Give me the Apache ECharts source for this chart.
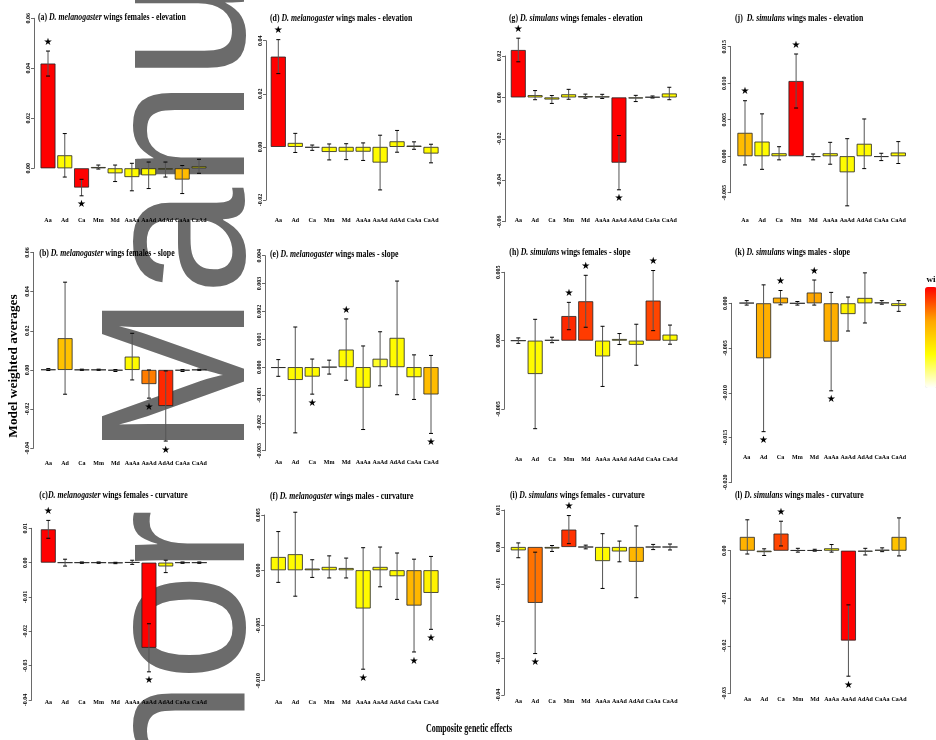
<!DOCTYPE html>
<html>
<head>
<meta charset="utf-8">
<script src="https://cdn.jsdelivr.net/npm/echarts@6/dist/echarts.min.js"></script>
<style>
html, body { margin: 0; padding: 0; background: #fff; }
#chart { width: 936px; height: 740px; }
</style>
</head>
<body>
<div id="chart"></div>
<script>
// composite genetic effects (x categories)
var cats = ['Aa', 'Ad', 'Ca', 'Mm', 'Md', 'AaAa', 'AaAd', 'AdAd', 'CaAa', 'CaAd'];

// model weighted averages, +/- error, model weight (colour) and significance star
var aVal = [0.0419, 0.0052, -0.0077, 0.0005, -0.0020, -0.0035, -0.0028, -0.0005, -0.0045, 0.0008];
var aErr = [0.0050, 0.0087, 0.0033, 0.0008, 0.0033, 0.0055, 0.0053, 0.0030, 0.0056, 0.0028];
var aW   = [1.00, 0.35, 1.00, 0.35, 0.35, 0.35, 0.35, 0.35, 0.58, 0.35];
var aSig = [1, 0, 1, 0, 0, 0, 0, 0, 0, 0];

var dVal = [0.0340, 0.0015, -0.0003, -0.0019, -0.0018, -0.0018, -0.0059, 0.0021, 0.0005, -0.0025];
var dErr = [0.0064, 0.0036, 0.0010, 0.0030, 0.0030, 0.0033, 0.0103, 0.0041, 0.0014, 0.0035];
var dW   = [1.00, 0.35, 0.35, 0.35, 0.35, 0.35, 0.35, 0.35, 0.35, 0.35];
var dSig = [1, 0, 0, 0, 0, 0, 0, 0, 0, 0];

var gVal = [0.0229, 0.0011, -0.0010, 0.0015, 0.0006, 0.0005, -0.0315, -0.0005, 0.0002, 0.0019];
var gErr = [0.0057, 0.0022, 0.0019, 0.0024, 0.0010, 0.0010, 0.0131, 0.0015, 0.0005, 0.0030];
var gW   = [1.00, 0.35, 0.35, 0.35, 0.35, 0.35, 1.00, 0.35, 0.35, 0.35];
var gSig = [1, 0, 0, 0, 0, 0, 1, 0, 0, 0];

var jVal = [0.0032, 0.0020, 0.0004, 0.0103, -0.0001, 0.0004, -0.0022, 0.0017, -0.0001, 0.0005];
var jErr = [0.0044, 0.0038, 0.0009, 0.0037, 0.0004, 0.0015, 0.0046, 0.0034, 0.0005, 0.0015];
var jW   = [0.58, 0.35, 0.35, 1.00, 0.35, 0.35, 0.35, 0.35, 0.35, 0.35];
var jSig = [1, 0, 0, 1, 0, 0, 0, 0, 0, 0];

var bVal = [0.0002, 0.0162, 0.0001, 0.0001, -0.0003, 0.0068, -0.0072, -0.0184, -0.0003, 0.0001];
var bErr = [0.0005, 0.0286, 0.0003, 0.0003, 0.0005, 0.0119, 0.0072, 0.0179, 0.0005, 0.0003];
var bW   = [0.35, 0.56, 0.35, 0.35, 0.35, 0.35, 0.75, 0.92, 0.35, 0.35];
var bSig = [0, 0, 0, 0, 0, 0, 1, 1, 0, 0];

var eVal = [-0.00003, -0.00046, -0.00034, 0.0, 0.00063, -0.00074, 0.0003, 0.00105, -0.00036, -0.00098];
var eErr = [0.0003, 0.0019, 0.00063, 0.00025, 0.0011, 0.0015, 0.00097, 0.00204, 0.0008, 0.0014];
var eW   = [0.35, 0.35, 0.35, 0.35, 0.35, 0.35, 0.28, 0.35, 0.35, 0.58];
var eSig = [0, 0, 1, 0, 1, 0, 0, 0, 0, 1];

var hVal = [0.0, -0.00244, 0.00005, 0.0018, 0.00288, -0.00115, 0.00012, -0.0003, 0.00293, 0.00044];
var hErr = [0.0002, 0.0040, 0.0002, 0.0010, 0.0019, 0.0022, 0.0004, 0.0015, 0.0022, 0.0007];
var hW   = [0.35, 0.35, 0.35, 0.92, 0.88, 0.35, 0.35, 0.35, 0.86, 0.35];
var hSig = [0, 0, 0, 1, 1, 0, 0, 0, 1, 0];

var kVal = [0.00005, -0.00614, 0.00063, 0.0, 0.0012, -0.00428, -0.0012, 0.0006, 0.0001, -0.0003];
var kErr = [0.00025, 0.0082, 0.0008, 0.0002, 0.0014, 0.0055, 0.0019, 0.0028, 0.0002, 0.0006];
var kW   = [0.35, 0.63, 0.63, 0.35, 0.66, 0.63, 0.38, 0.38, 0.35, 0.35];
var kSig = [0, 1, 1, 0, 1, 1, 0, 0, 0, 0];

var cVal = [0.0097, 0.0, 0.0, 0.0, -0.0001, 0.0001, -0.0248, -0.0011, 0.0, 0.0];
var cErr = [0.0026, 0.0010, 0.0002, 0.0002, 0.0002, 0.0006, 0.0070, 0.0018, 0.0002, 0.0002];
var cW   = [1.00, 0.35, 0.35, 0.35, 0.35, 0.35, 1.00, 0.35, 0.35, 0.35];
var cSig = [1, 0, 0, 0, 0, 0, 1, 0, 0, 0];

var fVal = [0.0012, 0.00145, 0.00015, 0.0003, 0.0002, -0.00346, 0.0003, -0.00054, -0.0032, -0.00205];
var fErr = [0.0023, 0.0038, 0.0008, 0.0010, 0.0009, 0.0055, 0.0018, 0.0021, 0.0042, 0.0033];
var fW   = [0.35, 0.35, 0.35, 0.35, 0.35, 0.35, 0.35, 0.35, 0.60, 0.38];
var fSig = [0, 0, 0, 0, 0, 1, 0, 0, 1, 1];

var iVal = [-0.0009, -0.0151, -0.0004, 0.0047, 0.0, -0.0038, -0.0012, -0.0040, 0.0, 0.0];
var iErr = [0.0020, 0.0137, 0.0008, 0.0038, 0.0005, 0.0074, 0.0028, 0.0097, 0.0007, 0.0008];
var iW   = [0.35, 0.77, 0.35, 0.90, 0.35, 0.35, 0.35, 0.60, 0.35, 0.35];
var iSig = [0, 1, 0, 1, 0, 0, 0, 0, 0, 0];

var lVal = [0.0029, -0.0003, 0.0036, 0.0001, 0.0001, 0.0005, -0.0189, -0.0002, 0.0002, 0.0029];
var lErr = [0.0036, 0.0007, 0.0026, 0.0004, 0.0002, 0.0008, 0.0075, 0.0007, 0.0004, 0.0040];
var lW   = [0.62, 0.35, 0.86, 0.35, 0.35, 0.35, 1.00, 0.35, 0.35, 0.56];
var lSig = [0, 0, 1, 0, 0, 0, 1, 0, 0, 0];

// panel layout: y axis line x, first/last bar centre, y of top/bottom tick
var panels = [
    {v: aVal, e: aErr, w: aW, s: aSig, tag: '(a) ', sp: 'D. melanogaster', rest: ' wings females - elevation',
     axisX: 34, c0: 48, c9: 199, topY: 18.3, botY: 168.3, min: 0, max: 0.06, step: 0.02, dec: 2, labelY: 220, tx: 38, ty: 17},
    {v: dVal, e: dErr, w: dW, s: dSig, tag: '(d) ', sp: 'D. melanogaster', rest: ' wings males - elevation',
     axisX: 266, c0: 278.3, c9: 431, topY: 40.7, botY: 200, min: -0.02, max: 0.04, step: 0.02, dec: 2, labelY: 220, tx: 270, ty: 18},
    {v: gVal, e: gErr, w: gW, s: gSig, tag: '(g) ', sp: 'D. simulans', rest: ' wings females - elevation',
     axisX: 505, c0: 518.3, c9: 669.3, topY: 56, botY: 221.7, min: -0.06, max: 0.02, step: 0.02, dec: 2, labelY: 220, tx: 509, ty: 18},
    {v: jVal, e: jErr, w: jW, s: jSig, tag: '(j)  ', sp: 'D. simulans', rest: ' wings males - elevation',
     axisX: 730.7, c0: 745, c9: 898.3, topY: 46.7, botY: 192.7, min: -0.005, max: 0.015, step: 0.005, dec: 3, labelY: 220, tx: 735, ty: 18},
    {v: bVal, e: bErr, w: bW, s: bSig, tag: '(b) ', sp: 'D. melanogaster', rest: ' wings females - slope',
     axisX: 33.3, c0: 48.3, c9: 199.3, topY: 252.4, botY: 448.3, min: -0.04, max: 0.06, step: 0.02, dec: 2, labelY: 463.3, tx: 39.3, ty: 253.3},
    {v: eVal, e: eErr, w: eW, s: eSig, tag: '(e) ', sp: 'D. melanogaster', rest: ' wings males - slope',
     axisX: 265, c0: 278.3, c9: 431, topY: 255.7, botY: 450.7, min: -0.003, max: 0.004, step: 0.001, dec: 3, labelY: 462.7, tx: 270, ty: 254.3},
    {v: hVal, e: hErr, w: hW, s: hSig, tag: '(h) ', sp: 'D. simulans', rest: ' wings females - slope',
     axisX: 504.3, c0: 518.3, c9: 670, topY: 272.3, botY: 409, min: -0.005, max: 0.005, step: 0.005, dec: 3, labelY: 459, tx: 509.3, ty: 252.3},
    {v: kVal, e: kErr, w: kW, s: kSig, tag: '(k) ', sp: 'D. simulans', rest: ' wings males - slope',
     axisX: 731.7, c0: 746.7, c9: 898.7, topY: 303.3, botY: 482.3, min: -0.02, max: 0, step: 0.005, dec: 3, labelY: 457.7, tx: 735, ty: 252.3},
    {v: cVal, e: cErr, w: cW, s: cSig, tag: '(c)', sp: 'D. melanogaster', rest: ' wings females - curvature',
     axisX: 31.7, c0: 48.3, c9: 199.3, topY: 528.3, botY: 700, min: -0.04, max: 0.01, step: 0.01, dec: 2, labelY: 702.7, tx: 39.3, ty: 495},
    {v: fVal, e: fErr, w: fW, s: fSig, tag: '(f) ', sp: 'D. melanogaster', rest: ' wings males - curvature',
     axisX: 264.3, c0: 278.3, c9: 431, topY: 515, botY: 680.7, min: -0.01, max: 0.005, step: 0.005, dec: 3, labelY: 702.7, tx: 270, ty: 496.7},
    {v: iVal, e: iErr, w: iW, s: iSig, tag: '(i) ', sp: 'D. simulans', rest: ' wings females - curvature',
     axisX: 504.3, c0: 518.3, c9: 670, topY: 510, botY: 695, min: -0.04, max: 0.01, step: 0.01, dec: 2, labelY: 701, tx: 510, ty: 495.7},
    {v: lVal, e: lErr, w: lW, s: lSig, tag: '(l) ', sp: 'D. simulans', rest: ' wings males - curvature',
     axisX: 730.7, c0: 747.3, c9: 899, topY: 550.7, botY: 693.3, min: -0.03, max: 0, step: 0.01, dec: 2, labelY: 699.3, tx: 735, ty: 495.7}
];

var serif = '"Liberation Serif", "DejaVu Serif", serif';
var grids = [], xAxes = [], yAxes = [], series = [], graphics = [], barIdx = [];

// watermark behind the panels
graphics.push({
    type: 'text', x: 187, y: 1078, rotation: Math.PI / 2, scaleY: 1.07, z: -10,
    style: {text: 'Author Manuscript', fontFamily: '"Liberation Sans", Arial, sans-serif',
            fontSize: 193, fill: '#6b6b6b', align: 'left', verticalAlign: 'middle'}
});

panels.forEach(function (p, k) {
    var band = (p.c9 - p.c0) / 9;
    var left = p.c0 - band / 2;
    grids.push({left: left, top: p.topY, width: band * 10, height: p.botY - p.topY, outerBoundsMode: 'none'});
    xAxes.push({
        type: 'category', gridIndex: k, data: cats,
        axisLine: {show: false, onZero: false}, axisTick: {show: false}, splitLine: {show: false},
        axisLabel: {interval: 0, margin: p.labelY - p.botY, verticalAlign: 'middle',
                    fontSize: 6, fontWeight: 'bold', fontFamily: serif, color: '#000'}
    });
    yAxes.push({
        type: 'value', gridIndex: k, min: p.min, max: p.max, interval: p.step, offset: left - p.axisX,
        axisLine: {show: true, lineStyle: {color: '#444', width: 0.8}},
        axisTick: {show: true, length: 3, lineStyle: {color: '#444', width: 0.8}},
        splitLine: {show: false},
        axisLabel: {rotate: 90, margin: 3, fontSize: 6, fontWeight: 'bold', fontFamily: serif, color: '#000',
                    formatter: function (val) { return (Math.abs(val) < 1e-12 ? 0 : val).toFixed(p.dec); }}
    });
    barIdx.push(series.length);
    series.push({
        type: 'bar', xAxisIndex: k, yAxisIndex: k, clip: false, silent: true,
        barCategoryGap: '11%',
        data: p.v.map(function (val, i) { return [i, val, p.w[i]]; }),
        encode: {x: 0, y: 1},
        itemStyle: {borderColor: '#222', borderWidth: 0.8}
    });
    series.push({
        type: 'custom', xAxisIndex: k, yAxisIndex: k, clip: false, silent: true, z: 3,
        data: p.v.map(function (val, i) { return [i, val, p.e[i], p.s[i]]; }),
        encode: {x: 0, y: 1},
        renderItem: function (params, api) {
            var i = api.value(0), val = api.value(1), err = api.value(2), sig = api.value(3);
            var hi = api.coord([i, val + err]);
            var lo = api.coord([i, val - err]);
            var x = hi[0];
            var kids = [
                {type: 'line', shape: {x1: x, y1: hi[1], x2: x, y2: lo[1]}, style: {stroke: '#555', lineWidth: 1}},
                {type: 'line', shape: {x1: x - 2, y1: hi[1], x2: x + 2, y2: hi[1]}, style: {stroke: '#000', lineWidth: 1}},
                {type: 'line', shape: {x1: x - 2, y1: lo[1], x2: x + 2, y2: lo[1]}, style: {stroke: '#000', lineWidth: 1}}
            ];
            if (sig) {
                kids.push({type: 'text', x: x, y: val >= 0 ? hi[1] - 9 : lo[1] + 9,
                    style: {text: '\u2605', fill: '#000', fontSize: 10, fontFamily: '"DejaVu Sans"',
                            align: 'center', verticalAlign: 'middle'}});
            }
            return {type: 'group', children: kids};
        }
    });
    graphics.push({
        type: 'text', x: p.tx, y: p.ty, scaleX: 0.74,
        style: {
            text: '{n|' + p.tag + '}{i|' + p.sp + '}{n|' + p.rest + '}',
            verticalAlign: 'middle', align: 'left', fill: '#000',
            rich: {
                n: {fontFamily: serif, fontWeight: 'bold', fontSize: 10.5},
                i: {fontFamily: serif, fontWeight: 'bold', fontStyle: 'italic', fontSize: 10.5}
            }
        }
    });
});

// shared axis titles
graphics.push({
    type: 'text', x: 14, y: 366, rotation: Math.PI / 2,
    style: {text: 'Model weighted averages', fontFamily: serif, fontWeight: 'bold', fontSize: 13.3,
            fill: '#000', align: 'center', verticalAlign: 'middle'}
});
graphics.push({
    type: 'text', x: 469, y: 729, scaleX: 0.64,
    style: {text: 'Composite genetic effects', fontFamily: serif, fontWeight: 'bold', fontSize: 12.5,
            fill: '#000', align: 'center', verticalAlign: 'middle'}
});

var chart = echarts.init(document.getElementById('chart'), null, {renderer: 'canvas'});
chart.setOption({
    animation: false,
    backgroundColor: '#fff',
    grid: grids,
    xAxis: xAxes,
    yAxis: yAxes,
    visualMap: {
        type: 'continuous', show: true, min: 0, max: 1, dimension: 2, seriesIndex: barIdx,
        calculable: false, orient: 'vertical', left: 925, top: 275, padding: 0,
        itemWidth: 12, itemHeight: 101, text: ['wi', ' '], textGap: 3,
        textStyle: {fontFamily: serif, fontWeight: 'bold', fontSize: 9, color: '#000'},
        inRange: {color: ['#ffffff', '#ffff00', '#ffa500', '#ff0000']}
    },
    graphic: graphics,
    series: series
});
</script>
</body>
</html>
